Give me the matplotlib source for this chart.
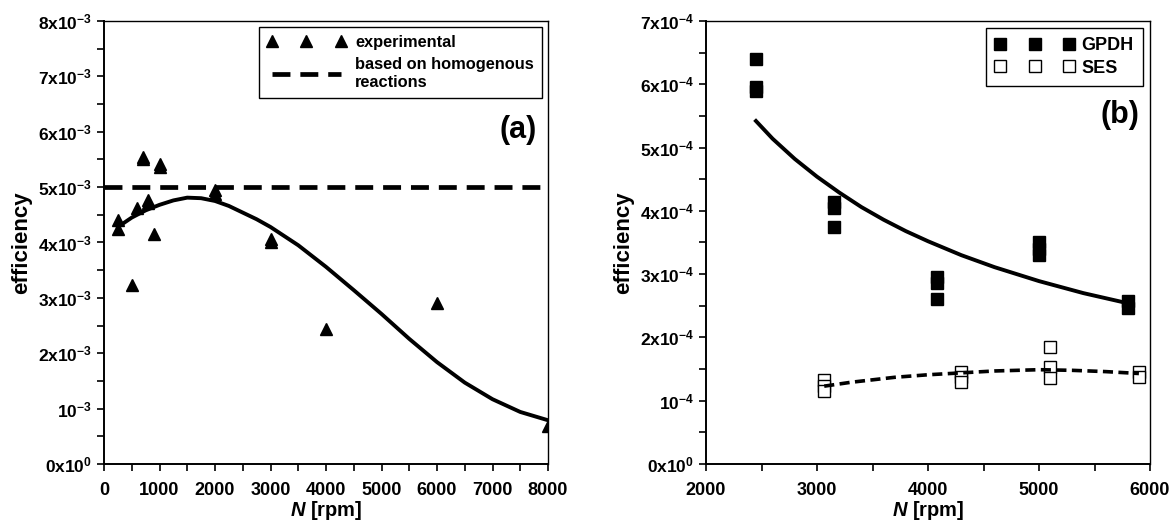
"""
    efficiency_vs_rpm.py
    two panel efficiency plot, (a) experimental vs homogenous, (b) GPDH / SES
"""

import matplotlib.pyplot as plt
from matplotlib.ticker import FixedLocator, MultipleLocator

plt.rcParams["font.family"] = ["Liberation Sans", "DejaVu Sans"]
plt.rcParams["font.weight"] = "bold"
plt.rcParams["mathtext.fontset"] = "custom"
plt.rcParams["mathtext.rm"] = "Liberation Sans:bold"
plt.rcParams["mathtext.bf"] = "Liberation Sans:bold"
plt.rcParams["mathtext.it"] = "Liberation Sans:bold:italic"

# ---- panel (a) ----
rpm_a = [250, 250, 500, 600, 700, 700, 800, 800, 900, 1000, 1000,
         2000, 2000, 3000, 3000, 4000, 6000, 8000]
eff_a = [4.40e-3, 4.25e-3, 3.23e-3, 4.62e-3, 5.55e-3, 5.50e-3, 4.76e-3, 4.72e-3,
         4.15e-3, 5.42e-3, 5.36e-3, 4.95e-3, 4.88e-3, 4.07e-3, 4.01e-3,
         2.44e-3, 2.91e-3, 0.69e-3]
fit_rpm_a = [250, 500, 750, 1000, 1250, 1500, 1750, 2000, 2250, 2500, 2750,
             3000, 3500, 4000, 4500, 5000, 5500, 6000, 6500, 7000, 7500, 8000]
fit_eff_a = [4.28e-3, 4.45e-3, 4.58e-3, 4.68e-3, 4.76e-3, 4.81e-3, 4.80e-3,
             4.75e-3, 4.66e-3, 4.54e-3, 4.42e-3, 4.28e-3, 3.95e-3, 3.56e-3,
             3.14e-3, 2.71e-3, 2.26e-3, 1.84e-3, 1.47e-3, 1.17e-3, 0.94e-3,
             0.79e-3]
homog_a = 5.0e-3
yticks_a = [0, 1e-3, 2e-3, 3e-3, 4e-3, 5e-3, 6e-3, 7e-3, 8e-3]
ylabels_a = [r"$\mathbf{0x10^{0}}$", r"$\mathbf{10^{-3}}$", r"$\mathbf{2x10^{-3}}$",
             r"$\mathbf{3x10^{-3}}$", r"$\mathbf{4x10^{-3}}$", r"$\mathbf{5x10^{-3}}$",
             r"$\mathbf{6x10^{-3}}$", r"$\mathbf{7x10^{-3}}$", r"$\mathbf{8x10^{-3}}$"]

# ---- panel (b) ----
rpm_gpdh = [2450, 2450, 2450, 3150, 3150, 3150, 4080, 4080, 4080,
            5000, 5000, 5000, 5800, 5800]
eff_gpdh = [6.40e-4, 5.95e-4, 5.90e-4, 4.14e-4, 4.04e-4, 3.74e-4, 2.96e-4, 2.86e-4,
            2.61e-4, 3.50e-4, 3.40e-4, 3.30e-4, 2.57e-4, 2.47e-4]
rpm_ses = [3065, 3065, 3065, 4300, 4300, 4300, 5100, 5100, 5100, 5900, 5900]
eff_ses = [1.33e-4, 1.24e-4, 1.15e-4, 1.45e-4, 1.38e-4, 1.30e-4, 1.85e-4, 1.53e-4,
           1.36e-4, 1.46e-4, 1.37e-4]
fit_rpm_gpdh = [2450, 2600, 2800, 3000, 3200, 3400, 3600, 3800, 4000, 4300,
                4600, 5000, 5400, 5800]
fit_eff_gpdh = [5.42e-4, 5.14e-4, 4.82e-4, 4.54e-4, 4.29e-4, 4.06e-4, 3.86e-4,
                3.68e-4, 3.52e-4, 3.30e-4, 3.11e-4, 2.89e-4, 2.70e-4, 2.54e-4]
fit_rpm_ses = [3065, 3300, 3500, 3700, 4000, 4300, 4600, 5000, 5300, 5600, 5900]
fit_eff_ses = [1.23e-4, 1.29e-4, 1.33e-4, 1.37e-4, 1.41e-4, 1.44e-4, 1.47e-4,
               1.49e-4, 1.48e-4, 1.46e-4, 1.43e-4]
yticks_b = [0, 1e-4, 2e-4, 3e-4, 4e-4, 5e-4, 6e-4, 7e-4]
ylabels_b = [r"$\mathbf{0x10^{0}}$", r"$\mathbf{10^{-4}}$", r"$\mathbf{2x10^{-4}}$",
             r"$\mathbf{3x10^{-4}}$", r"$\mathbf{4x10^{-4}}$", r"$\mathbf{5x10^{-4}}$",
             r"$\mathbf{6x10^{-4}}$", r"$\mathbf{7x10^{-4}}$"]


def style_axes(ax):
    for side in ["top", "right"]:
        ax.spines[side].set_linewidth(1.0)
    for side in ["left", "bottom"]:
        ax.spines[side].set_linewidth(1.4)
    ax.tick_params(which="both", direction="out", length=5, width=1.2,
                   top=False, right=False, labelsize=12.5)
    ax.tick_params(axis="x", which="major", pad=8, labelsize=13)
    for lab in ax.get_xticklabels():
        lab.set_fontweight("bold")
    ax.set_xlabel(r"$\mathit{N}$ [rpm]", fontsize=14.5, fontweight="bold", labelpad=0)
    ax.set_ylabel("efficiency", fontsize=16, fontweight="bold")


def plot_panel_a(ax):
    ax.plot(rpm_a, eff_a, linestyle="none", marker="^", markersize=8.5,
            color="black", label="experimental")
    ax.axhline(homog_a, color="black", linewidth=3.4, dashes=(3.8, 2.1),
               label="based on homogenous\nreactions")
    ax.plot(fit_rpm_a, fit_eff_a, color="black", linewidth=2.8)

    ax.set_xlim(0, 8000)
    ax.set_ylim(0, 8e-3)
    ax.xaxis.set_major_locator(MultipleLocator(1000))
    ax.xaxis.set_minor_locator(MultipleLocator(500))
    ax.yaxis.set_major_locator(FixedLocator(yticks_a))
    ax.set_yticklabels(ylabels_a)
    ax.yaxis.set_minor_locator(MultipleLocator(0.5e-3))
    style_axes(ax)

    leg = ax.legend(loc="upper right", numpoints=3, handlelength=4.8,
                    fontsize=11.8, fancybox=False, framealpha=1,
                    edgecolor="black", borderaxespad=0.35, labelspacing=0.45,
                    handletextpad=0.6, borderpad=0.5)
    leg.get_frame().set_linewidth(1.0)
    ax.text(0.975, 0.754, "(a)", transform=ax.transAxes, ha="right",
            va="center", fontsize=22, fontweight="bold")


def plot_panel_b(ax):
    ax.plot(rpm_gpdh, eff_gpdh, linestyle="none", marker="s", markersize=8,
            color="black", label="GPDH")
    ax.plot(rpm_ses, eff_ses, linestyle="none", marker="s", markersize=8,
            markerfacecolor="white", markeredgecolor="black",
            markeredgewidth=1.0, label="SES")
    ax.plot(fit_rpm_gpdh, fit_eff_gpdh, color="black", linewidth=2.8)
    ax.plot(fit_rpm_ses, fit_eff_ses, color="black", linewidth=2.6,
            dashes=(2.8, 1.5))

    ax.set_xlim(2000, 6000)
    ax.set_ylim(0, 7e-4)
    ax.xaxis.set_major_locator(MultipleLocator(1000))
    ax.xaxis.set_minor_locator(MultipleLocator(500))
    ax.yaxis.set_major_locator(FixedLocator(yticks_b))
    ax.set_yticklabels(ylabels_b)
    ax.yaxis.set_minor_locator(MultipleLocator(0.5e-4))
    style_axes(ax)

    leg = ax.legend(loc="upper right", numpoints=3, handlelength=4.4,
                    fontsize=13, fancybox=False, framealpha=1,
                    edgecolor="black", borderaxespad=0.4, labelspacing=0.3,
                    handletextpad=0.4, borderpad=0.5)
    leg.get_frame().set_linewidth(1.0)
    ax.text(0.975, 0.788, "(b)", transform=ax.transAxes, ha="right",
            va="center", fontsize=22, fontweight="bold")


fig = plt.figure(figsize=(11.72, 5.22), dpi=100)
fig.patch.set_facecolor("white")
ax1 = fig.add_axes([104 / 1172, 58 / 522, 444 / 1172, 443 / 522])
ax2 = fig.add_axes([706 / 1172, 58 / 522, 444 / 1172, 443 / 522])

plot_panel_a(ax1)
plot_panel_b(ax2)

plt.savefig("out.png", dpi=100)
